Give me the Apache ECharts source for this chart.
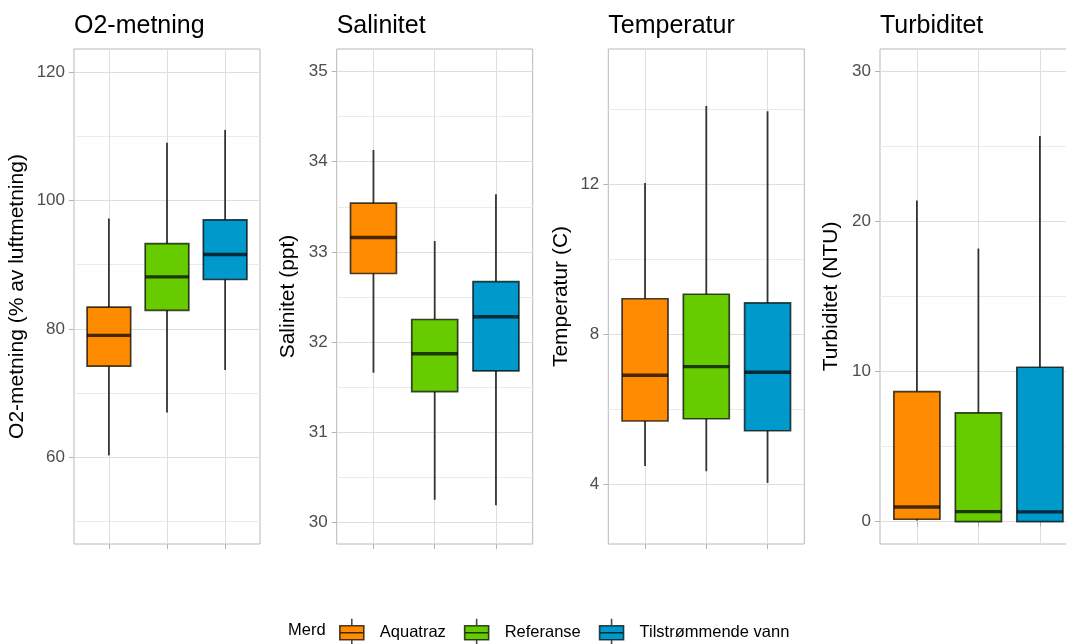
<!DOCTYPE html>
<html><head><meta charset="utf-8">
<script src="https://cdn.jsdelivr.net/npm/echarts@6/dist/echarts.min.js"></script>
<style>html,body{margin:0;padding:0;background:#fff}#c{width:1066px;height:644px}</style>
</head><body><div id="c"></div>
<script>
const groups = ['Aquatraz', 'Referanse', 'Tilstrømmende vann'];
const panelTitles = ['O2-metning', 'Salinitet', 'Temperatur', 'Turbiditet'];
const axisTitles = ['O2-metning (% av luftmetning)', 'Salinitet (ppt)', 'Temperatur (C)', 'Turbiditet (NTU)'];
// each row: [min, Q1, median, Q3, max] for Aquatraz, Referanse, Tilstrømmende vann
const o2Stats = [[60.3, 74.2, 79.0, 83.4, 97.2], [67.0, 82.9, 88.1, 93.3, 109.0], [73.6, 87.7, 91.6, 97.0, 111.0]];
const salinitetStats = [[31.66, 32.76, 33.16, 33.54, 34.13], [30.25, 31.45, 31.87, 32.25, 33.12], [30.19, 31.68, 32.28, 32.67, 33.64]];
const temperaturStats = [[4.49, 5.69, 6.91, 8.95, 12.04], [4.35, 5.75, 7.14, 9.07, 14.09], [4.04, 5.43, 6.99, 8.84, 13.95]];
const turbiditetStats = [[0.07, 0.16, 0.98, 8.67, 21.4], [0, 0, 0.67, 7.25, 18.2], [0, 0, 0.65, 10.29, 25.7]];
const o2Ticks = [60, 80, 100, 120];
const o2Minor = [50, 70, 90, 110];
const salinitetTicks = [30, 31, 32, 33, 34, 35];
const salinitetMinor = [30.5, 31.5, 32.5, 33.5, 34.5];
const temperaturTicks = [4, 8, 12];
const temperaturMinor = [6, 10, 14];
const turbiditetTicks = [0, 10, 20, 30];
const turbiditetMinor = [5, 15, 25];
const yRanges = [[46.5, 123.6], [29.76, 35.25], [2.41, 15.61], [-1.49, 31.5]];

const panelStats = [o2Stats, salinitetStats, temperaturStats, turbiditetStats];
const panelTicks = [o2Ticks, salinitetTicks, temperaturTicks, turbiditetTicks];
const panelMinor = [o2Minor, salinitetMinor, temperaturMinor, turbiditetMinor];

const fills = ['#FF8C00', '#66CC00', '#0099CC'];
const boxStroke = 'rgba(0,0,0,0.72)';
const FONT = '"Liberation Sans", Arial, sans-serif';
const gridPos = [
  {left: 74, width: 186, nameGap: 46},
  {left: 336.7, width: 196, nameGap: 38},
  {left: 608.3, width: 196, nameGap: 37},
  {left: 880, width: 196.8, nameGap: 38}
];

const grid = [], xAxis = [], yAxis = [], series = [], title = [];
panelStats.forEach((stats, p) => {
  const gp = gridPos[p];
  grid.push({left: gp.left, width: gp.width, top: 49, height: 495, show: true,
    outerBoundsMode: 'none', containLabel: false,
    borderColor: '#b8b8b8', borderWidth: 1, backgroundColor: '#fff'});
  xAxis.push({gridIndex: p, type: 'value', min: 1 - 0.6, max: groups.length + 0.6,
    axisLine: {show: false},
    axisTick: {show: true, customValues: groups.map((g, i) => i + 1), length: 5, lineStyle: {color: '#b3b3b3', width: 1}},
    axisLabel: {show: false},
    splitLine: {show: true, lineStyle: {color: '#dedede', width: 1}}});
  yAxis.push({gridIndex: p, type: 'value', min: yRanges[p][0], max: yRanges[p][1],
    axisLine: {show: false},
    axisTick: {show: true, customValues: panelTicks[p], length: 5, lineStyle: {color: '#b3b3b3', width: 1}},
    axisLabel: {customValues: panelTicks[p], margin: 9, fontSize: 17, color: '#4d4d4d', fontFamily: FONT},
    splitLine: {show: true, lineStyle: {color: '#dedede', width: 1}},
    name: axisTitles[p], nameLocation: 'middle', nameGap: gp.nameGap,
    nameTextStyle: {fontSize: 21, color: '#000', fontFamily: FONT}});
  yAxis.push({gridIndex: p, type: 'value', min: yRanges[p][0], max: yRanges[p][1], position: 'left',
    axisLine: {show: false},
    axisTick: {show: false, customValues: panelMinor[p]},
    axisLabel: {show: false},
    splitLine: {show: true, lineStyle: {color: '#ebebeb', width: 1}}});
  title.push({text: panelTitles[p], left: gp.left, top: 14, padding: 0,
    textStyle: {fontSize: 25, fontWeight: 'normal', color: '#000', fontFamily: FONT}});
  stats.forEach((s, g) => {
    series.push({
      type: 'custom', name: groups[g], xAxisIndex: p, yAxisIndex: 2 * p,
      itemStyle: {color: fills[g], borderColor: boxStroke, borderWidth: 1.5},
      encode: {x: 0, y: [1, 2, 3, 4, 5]},
      data: [[g + 1].concat(s)],
      renderItem: function (params, api) {
        const x = api.value(0);
        const lo = api.coord([x, api.value(1)]);
        const q1 = api.coord([x, api.value(2)]);
        const md = api.coord([x, api.value(3)]);
        const q3 = api.coord([x, api.value(4)]);
        const hi = api.coord([x, api.value(5)]);
        const w = api.size([0.75, 0])[0];
        const cx = q1[0];
        return {type: 'group', children: [
          {type: 'line', shape: {x1: cx, y1: hi[1], x2: cx, y2: q3[1]}, style: {stroke: '#333', lineWidth: 1.8}},
          {type: 'line', shape: {x1: cx, y1: q1[1], x2: cx, y2: lo[1]}, style: {stroke: '#333', lineWidth: 1.8}},
          {type: 'rect', shape: {x: cx - w / 2, y: q3[1], width: w, height: q1[1] - q3[1]},
            style: {fill: fills[g], stroke: boxStroke, lineWidth: 1.7}},
          {type: 'line', shape: {x1: cx - w / 2, y1: md[1], x2: cx + w / 2, y2: md[1]},
            style: {stroke: boxStroke, lineWidth: 3.4}}
        ]};
      }
    });
  });
});
title.push({text: 'Merd', left: 288, top: 622, padding: 0,
  textStyle: {fontSize: 16.5, fontWeight: 'normal', color: '#000', fontFamily: FONT}});

const chart = echarts.init(document.getElementById('c'), null, {renderer: 'canvas'});
chart.setOption({
  animation: false,
  backgroundColor: '#fff',
  title: title,
  grid: grid,
  xAxis: xAxis,
  yAxis: yAxis,
  legend: {
    left: 339, top: 618, padding: 0, itemWidth: 24, itemHeight: 28, itemGap: 18,
    selectedMode: false,
    icon: 'path://M12,0L12,7M0,7L24,7L24,21L0,21ZM0,14L24,14M12,21L12,28',
    textStyle: {fontSize: 16.5, color: '#000', fontFamily: FONT, padding: [0, 0, 0, 11]},
    data: groups.map((g, i) => ({name: g, itemStyle: {color: fills[i], borderColor: boxStroke, borderWidth: 1.6}}))
  },
  series: series
});
</script></body></html>
